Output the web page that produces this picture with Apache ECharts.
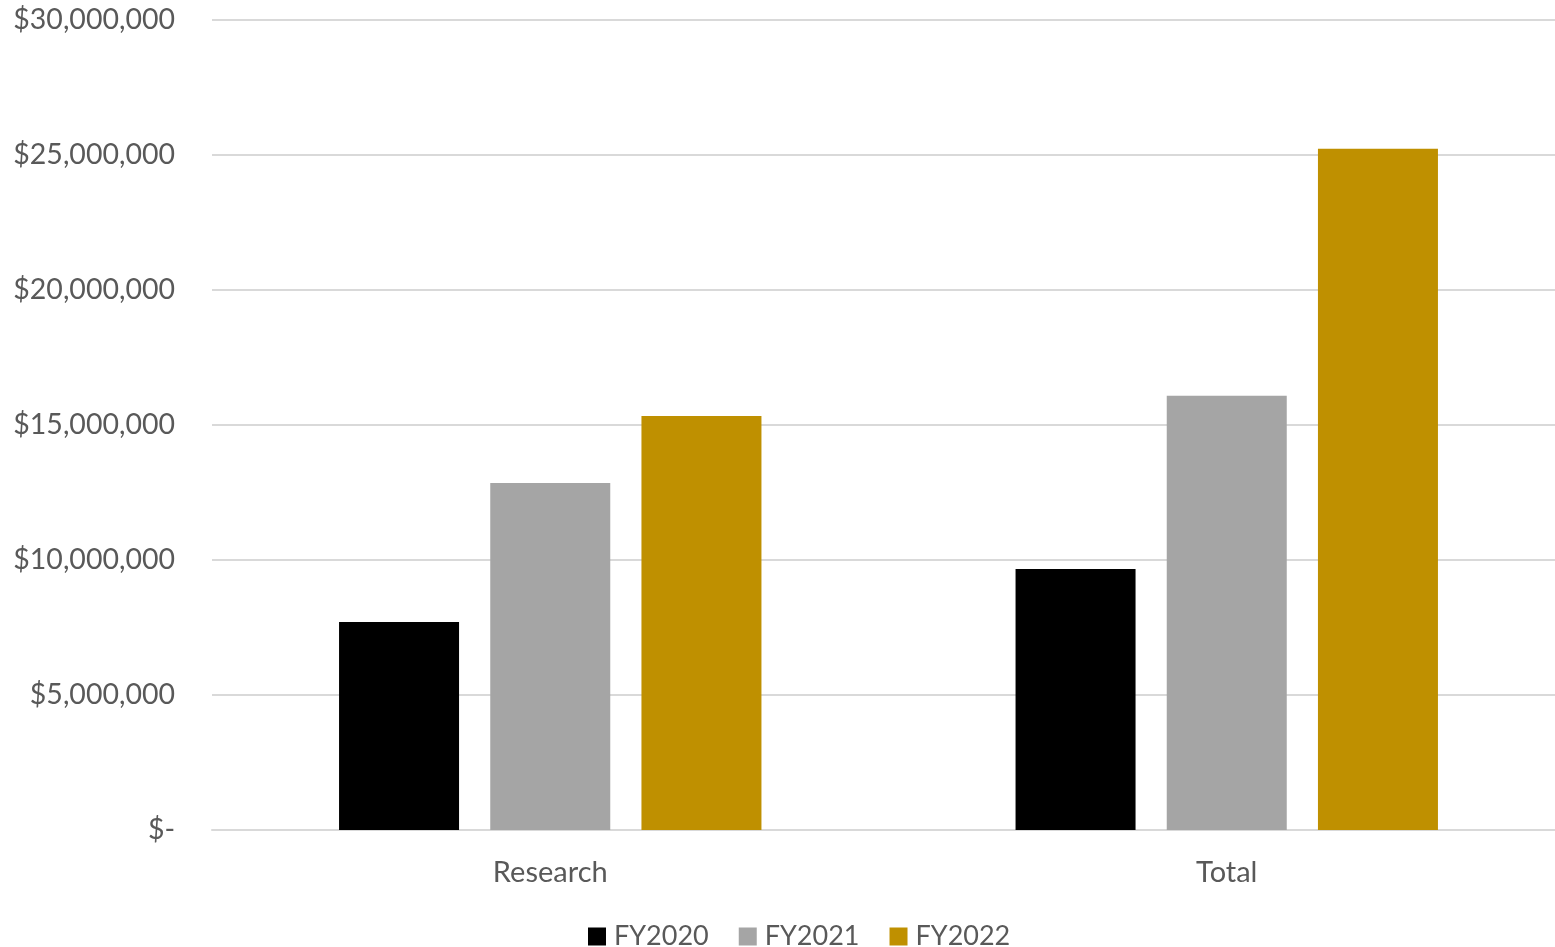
<!DOCTYPE html>
<html><head><meta charset="utf-8">
<script src="https://cdn.jsdelivr.net/npm/echarts@6/dist/echarts.min.js"></script>
<style>html,body{margin:0;padding:0;background:#fff}#c{width:1555px;height:947px}</style>
</head><body><div id="c"></div>
<script>
const categories = ['Research', 'Total'];
const seriesNames = ['FY2020', 'FY2021', 'FY2022'];
const fy2020 = [7700000, 9670000];
const fy2021 = [12850000, 16080000];
const fy2022 = [15330000, 25230000];
const colors = ['#000000', '#a5a5a5', '#bf9000'];

const font = 'Lato, "Open Sans", sans-serif';
const chart = echarts.init(document.getElementById('c'));
const fmt = v => v === 0 ? '$-' : '$' + v.toLocaleString('en-US');
chart.setOption({
  animation: false,
  grid: { left: 212, width: 1353, top: 20, height: 810, containLabel: false, outerBoundsMode: 'none' },
  legend: {
    top: 918, left: 583,
    itemWidth: 18, itemHeight: 18, itemGap: 30,
    icon: 'rect',
    textStyle: { fontFamily: font, fontSize: 27, color: '#595959', padding: [0,0,0,3] },
    data: seriesNames
  },
  xAxis: {
    type: 'category', data: categories,
    axisLine: { lineStyle: { color: '#d9d9d9', width: 2 } },
    axisTick: { show: false },
    axisLabel: { fontFamily: font, fontSize: 29, color: '#595959', margin: 28 }
  },
  yAxis: {
    type: 'value', min: 0, max: 30000000, interval: 5000000,
    axisLine: { show: false }, axisTick: { show: false },
    splitLine: { lineStyle: { color: '#d9d9d9', width: 2 } },
    axisLabel: { fontFamily: font, fontSize: 28.5, color: '#595959', margin: 37, formatter: fmt }
  },
  series: [
    { name: seriesNames[0], type: 'bar', data: fy2020, barWidth: 120, barGap: '26%', itemStyle: { color: colors[0] } },
    { name: seriesNames[1], type: 'bar', data: fy2021, barWidth: 120, barGap: '26%', itemStyle: { color: colors[1] } },
    { name: seriesNames[2], type: 'bar', data: fy2022, barWidth: 120, barGap: '26%', itemStyle: { color: colors[2] } }
  ]
});
</script></body></html>
